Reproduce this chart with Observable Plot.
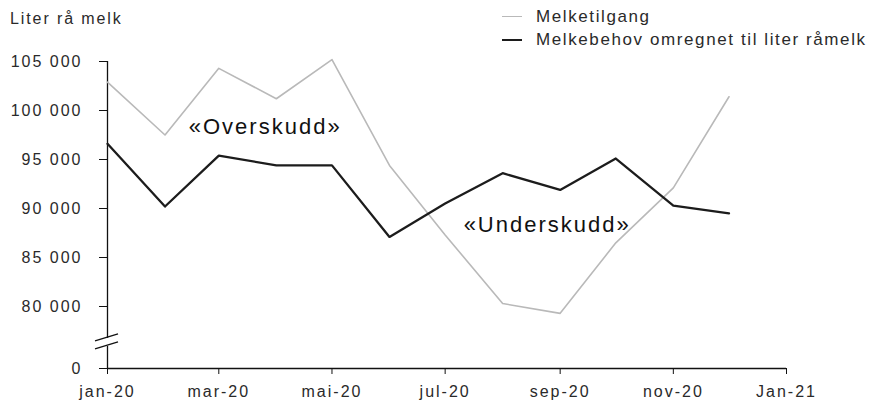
<!DOCTYPE html>
<html><head><meta charset="utf-8">
<script src="https://cdn.jsdelivr.net/npm/d3@7"></script>
<script src="https://cdn.jsdelivr.net/npm/@observablehq/plot@0.6"></script>
<style>
body{margin:0;background:#fff;}
#wrap{position:relative;width:870px;height:400px;font-family:"Liberation Sans",Arial,sans-serif;color:#2a2a2a;}
#title{position:absolute;left:10px;top:10px;font-size:16px;letter-spacing:1.9px;}
#legend{position:absolute;left:502px;top:5px;font-size:17px;letter-spacing:1.6px;}
.row{display:flex;align-items:center;height:23px;}
.sw{width:20px;height:0;margin-right:14px;}
#chart{position:absolute;left:0;top:0;}
</style></head>
<body>
<div id="wrap"><div id="chart"></div><div id="title">Liter rå melk</div><div id="legend"></div></div>
<script>
const months = ["2020-01","2020-02","2020-03","2020-04","2020-05","2020-06","2020-07","2020-08","2020-09","2020-10","2020-11","2020-12"];
const melketilgang = [102900, 97500, 104300, 101200, 105200, 94400, 87300, 80300, 79300, 86500, 92100, 101400];
const melkebehov = [96600, 90200, 95400, 94400, 94400, 87100, 90500, 93600, 91900, 95100, 90300, 89500];
const seriesNames = ["Melketilgang", "Melkebehov omregnet til liter råmelk"];
const seriesColors = ["#b9b9b9", "#1c1c1c"];
const yTicks = [0, 80000, 85000, 90000, 95000, 100000, 105000];
const xTickMonths = ["2020-01","2020-03","2020-05","2020-07","2020-09","2020-11","2021-01"];
const xTickLabels = ["jan-20","mar-20","mai-20","jul-20","sep-20","nov-20","Jan-21"];
const annotationLabels = ["«Overskudd»", "«Underskudd»"];
const annotationDates = ["2020-03-26", "2020-08-25"];
const annotationValues = [98300, 88300];

const parseM = d3.utcParse("%Y-%m");
const parseD = d3.utcParse("%Y-%m-%d");
const dates = months.map(parseM);
const xTicks = xTickMonths.map(parseM);
const xStart = xTicks[0], xEnd = xTicks[xTicks.length - 1];
const rows = [];
dates.forEach((d, i) => {
  rows.push({date: d, value: melketilgang[i], series: seriesNames[0]});
  rows.push({date: d, value: melkebehov[i], series: seriesNames[1]});
});
const annotations = annotationLabels.map((t, i) => ({text: t, date: parseD(annotationDates[i]), value: annotationValues[i]}));
const fmt = v => d3.format(",")(v).replace(/,/g, " ");

// broken y axis: compressed segment 0..77 000, linear above
const yTop = 61, yBottom = 368, y80 = 306, pxPer5000 = 49;
const yBreakVal = 77000;
const yBreakPx = y80 + (80000 - yBreakVal) / 5000 * pxPer5000;

const chart = Plot.plot({
  width: 870, height: 400,
  marginLeft: 107, marginRight: 84, marginTop: yTop, marginBottom: 400 - yBottom,
  style: {fontFamily: "'Liberation Sans', Arial, sans-serif", fontSize: "16px", color: "#2a2a2a", background: "#fff", letterSpacing: "2px", overflow: "visible"},
  x: {type: "utc", domain: [xStart, xEnd]},
  y: {type: "linear", domain: [0, yBreakVal, 105000], range: [yBottom, yBreakPx, yTop]},
  marks: [
    Plot.axisY({ticks: yTicks, tickFormat: fmt, tickSize: 8, tickPadding: 17, label: null, stroke: "#111"}),
    Plot.axisX({ticks: xTicks, tickFormat: (d, i) => xTickLabels[i], tickSize: 6, tickPadding: 11, label: null, stroke: "#111"}),
    Plot.ruleX([xStart], {y1: 0, y2: 105000, stroke: "#111", strokeWidth: 1.3}),
    Plot.ruleY([0], {x1: xStart, x2: xEnd, stroke: "#111", strokeWidth: 1.3}),
    Plot.line(rows.filter(r => r.series === seriesNames[0]), {x: "date", y: "value", stroke: seriesColors[0], strokeWidth: 1.6}),
    Plot.line(rows.filter(r => r.series === seriesNames[1]), {x: "date", y: "value", stroke: seriesColors[1], strokeWidth: 2.3}),
    Plot.text(annotations, {x: "date", y: "value", text: "text", fontSize: 22, fill: "#111", style: {letterSpacing: "3.4px"}})
  ]
});
document.getElementById("chart").appendChild(chart);

// axis break marker
const svg = d3.select(chart);
const ys = chart.scale("y"), xs = chart.scale("x");
const x0 = xs.apply(xStart);
const yb = ys.apply(0) + (ys.apply(yBreakVal) - ys.apply(0)) * 0.8;
const g = svg.append("g");
g.append("rect").attr("x", x0 - 3).attr("y", yb - 4).attr("width", 6).attr("height", 8).attr("fill", "#fff");
[-4, 4].forEach(off => {
  g.append("line").attr("x1", x0 - 12).attr("y1", yb + off + 3).attr("x2", x0 + 11).attr("y2", yb + off - 4)
    .attr("stroke", "#111").attr("stroke-width", 1.3);
});

// legend
const leg = d3.select("#legend");
seriesNames.forEach((n, i) => {
  const r = leg.append("div").attr("class", "row");
  r.append("div").attr("class", "sw").style("border-top", `${i ? 2.5 : 1.6}px solid ${seriesColors[i]}`);
  r.append("span").text(n);
});
</script>
</body></html>
